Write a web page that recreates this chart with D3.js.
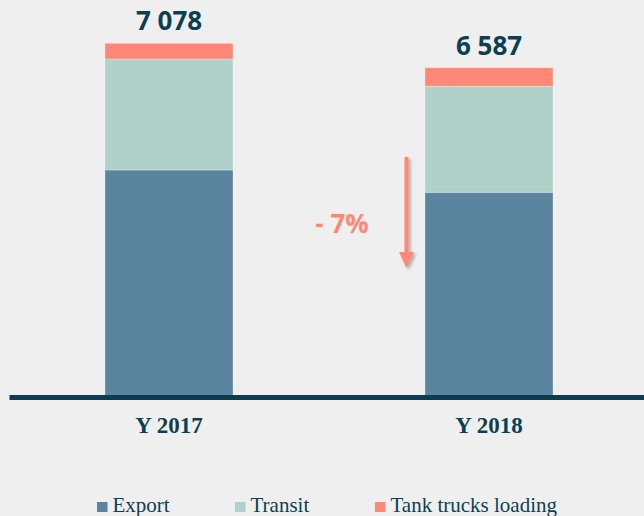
<!DOCTYPE html>
<html><head><meta charset="utf-8">
<script src="https://cdn.jsdelivr.net/npm/d3@7"></script>
<style>
html,body{margin:0;padding:0;background:#efefef;}
svg{display:block;}
</style></head>
<body>
<svg id="chart" width="644" height="516"></svg>
<script>
const categories = ["Y 2017", "Y 2018"];
const seriesNames = ["Export", "Transit", "Tank trucks loading"];
const exportValues = [4532, 4084];
const transitValues = [2231, 2133];
const tankValues = [315, 370];
const totalLabels = ["7 078", "6 587"];
const changeLabel = "- 7%";
const colors = ["#5b849e", "#b0d1ca", "#ff8775"];

const svg = d3.select("#chart");
const W = 644, H = 516;
svg.append("rect").attr("width", W).attr("height", H).attr("fill", "#efefef");

const rows = categories.map((c, i) => ({cat: c, Export: exportValues[i], Transit: transitValues[i], "Tank trucks loading": tankValues[i]}));
const stack = d3.stack().keys(seriesNames)(rows);

const x = d3.scaleBand().domain(categories).range([9, 649]).paddingInner(0.6).paddingOuter(0.3);
const y = d3.scaleLinear().domain([0, 7078]).range([395.5, 43.3]);

const defs = svg.append("defs");
const f = defs.append("filter").attr("id", "sh").attr("x", "-50%").attr("y", "-20%").attr("width", "200%").attr("height", "140%");
f.append("feDropShadow").attr("dx", 2).attr("dy", 2).attr("stdDeviation", 1.5).attr("flood-color", "#000").attr("flood-opacity", 0.3);

svg.append("g").selectAll("g").data(stack).join("g")
  .attr("fill", (d, i) => colors[i])
  .selectAll("rect").data(d => d).join("rect")
  .attr("x", d => x(d.data.cat))
  .attr("width", x.bandwidth())
  .attr("y", d => y(d[1]))
  .attr("height", d => y(d[0]) - y(d[1]))
  .attr("stroke", "#ffffff").attr("stroke-opacity", 0.35).attr("stroke-width", 0.8);

// totals
svg.append("g").selectAll("text").data(rows).join("text")
  .attr("x", d => x(d.cat) + x.bandwidth() / 2)
  .attr("y", d => y(d.Export + d.Transit + d["Tank trucks loading"]) - 13)
  .attr("text-anchor", "middle")
  .attr("font-family", "'Open Sans', sans-serif")
  .attr("font-weight", "bold")
  .attr("font-size", 26)
  .attr("fill", "#0c3f4f")
  .text((d, i) => totalLabels[i]);

// axis
const axis = svg.append("g").attr("transform", "translate(0,397)")
  .call(d3.axisBottom(x).tickSize(0));
axis.select(".domain").attr("stroke", "#0b3c4f").attr("stroke-width", 5);
axis.selectAll(".tick text")
  .attr("y", 36).attr("dy", 0)
  .attr("font-family", "'Liberation Serif', 'DejaVu Serif', serif")
  .attr("font-weight", "bold")
  .attr("font-size", 23)
  .attr("fill", "#0c3f4f");

// change arrow annotation
const ax = x(categories[1]) - 18.5;
const g = svg.append("g").attr("filter", "url(#sh)");
g.append("line").attr("x1", ax).attr("x2", ax).attr("y1", 157).attr("y2", 254)
  .attr("stroke", "#ff8775").attr("stroke-width", 4);
g.append("path").attr("d", `M${ax - 7.5},252 L${ax + 7.5},252 L${ax},268 Z`).attr("fill", "#ff8775");

svg.append("text").attr("x", 342).attr("y", 233)
  .attr("text-anchor", "middle")
  .attr("font-family", "'Open Sans', sans-serif")
  .attr("font-weight", "bold").attr("font-size", 26)
  .attr("fill", "#ff8775").text(changeLabel);

// legend
const legendX = [97, 235, 375];
const lg = svg.append("g").selectAll("g").data(seriesNames).join("g")
  .attr("transform", (d, i) => `translate(${legendX[i]},0)`);
lg.append("rect").attr("x", 0).attr("y", 502).attr("width", 10.5).attr("height", 10).attr("fill", (d, i) => colors[i]);
lg.append("text").attr("x", 15.5).attr("y", 512)
  .attr("font-family", "'Liberation Serif', 'DejaVu Serif', serif")
  .attr("font-size", 21).attr("fill", "#0c3f4f").text(d => d);
</script>
</body></html>
